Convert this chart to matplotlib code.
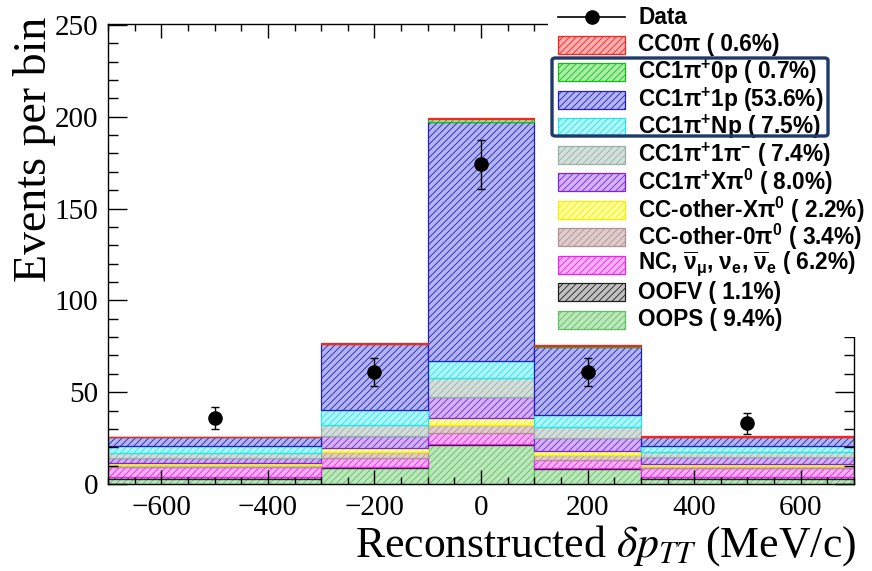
import numpy as np
import matplotlib
matplotlib.use("Agg")
import matplotlib.pyplot as plt
from matplotlib.patches import Rectangle, FancyBboxPatch
from matplotlib.lines import Line2D

plt.rcParams['mathtext.fontset'] = 'custom'
plt.rcParams['mathtext.rm'] = 'Liberation Sans:bold'
plt.rcParams['mathtext.it'] = 'Liberation Sans:bold'
plt.rcParams['mathtext.bf'] = 'Liberation Sans:bold'
plt.rcParams['hatch.linewidth'] = 0.6

# bin edges in MeV/c
edges = [-700, -300, -100, 100, 300, 700]

# stacked components, bottom to top (events per bin)
oops      = [2.7, 8.9, 21.2, 8.0, 2.6]
oofv      = [0.9, 0.5, 0.4, 0.5, 1.0]
nc        = [5.8, 4.9, 6.0, 4.6, 4.9]
cc_oth_0  = [0.9, 3.3, 4.5, 2.7, 1.5]
cc_oth_x  = [1.0, 1.8, 3.7, 2.3, 0.7]
cc1pi_xpi = [2.7, 6.7, 11.8, 6.8, 4.2]
cc1pi_1pm = [2.7, 6.0, 10.0, 6.3, 2.7]
cc1pi_np  = [4.0, 8.2, 9.6, 6.4, 3.1]
cc1pi_1p  = [4.7, 36.0, 130.1, 36.8, 4.7]
cc1pi_0p  = [0.1, 0.2, 1.3, 0.8, 0.3]
cc0pi     = [0.2, 0.1, 0.5, 0.3, 0.6]

data_x   = [-500, -200, 0, 200, 500]
data_y   = [36, 61, 174, 61, 33]
data_err = [6.0, 7.8, 13.2, 7.8, 5.8]

labels = ['CC0π ( 0.6%)', 'CC1π$^{+}$0p ( 0.7%)', 'CC1π$^{+}$1p (53.6%)',
          'CC1π$^{+}$Np ( 7.5%)', 'CC1π$^{+}$1π$^{-}$ ( 7.4%)',
          'CC1π$^{+}$Xπ$^{0}$ ( 8.0%)', 'CC-other-Xπ$^{0}$ ( 2.2%)',
          'CC-other-0π$^{0}$ ( 3.4%)',
          r'NC, $\overline{\nu}_{\mu}$, $\nu_{e}$, $\overline{\nu}_{e}$ ( 6.2%)',
          'OOFV ( 1.1%)', 'OOPS ( 9.4%)']

# (hatch/line colour, fill colour) per component, same order as labels
styles = [('#ff2020', '#f6b0b0'), ('#10c010', '#a8eca8'), ('#2020c0', '#b4b4ee'),
          ('#20e8f0', '#b0f4f6'), ('#98b0a8', '#d4dedb'), ('#8020e0', '#d2b4f4'),
          ('#f0f000', '#ffff9c'), ('#b09090', '#e0cccc'), ('#f020f0', '#f6b0f6'),
          ('#202020', '#c0c0c0'), ('#60c060', '#bce6bc')]

stack = [oops, oofv, nc, cc_oth_0, cc_oth_x, cc1pi_xpi, cc1pi_1pm,
         cc1pi_np, cc1pi_1p, cc1pi_0p, cc0pi]
stack_styles = styles[::-1]

W, H = 872, 571
fig = plt.figure(figsize=(W / 100, H / 100), dpi=100)
ax = fig.add_axes([108 / W, 1 - 484 / H, (854 - 108) / W, (484 - 24) / H])

e = np.array(edges, dtype=float)
centers = (e[:-1] + e[1:]) / 2
widths = np.diff(e)
bottom = np.zeros(len(centers))
for vals, (lc, fc) in zip(stack, stack_styles):
    ax.bar(centers, vals, width=widths, bottom=bottom, facecolor=fc,
           edgecolor=lc, hatch='/////', linewidth=0.9)
    bottom += np.array(vals)

ax.errorbar(data_x, data_y, yerr=data_err, fmt='o', color='black',
            markersize=9.5, capsize=3, elinewidth=1, capthick=1, zorder=5)

ax.set_xlim(-700, 700)
ax.set_ylim(0, 250.5)
ax.set_xticks(np.arange(-600, 601, 200))
ax.set_xticks(np.arange(-700, 701, 50), minor=True)
ax.set_yticks(np.arange(0, 251, 50))
ax.set_yticks(np.arange(0, 251, 10), minor=True)
ax.tick_params(which='both', direction='in', top=True, right=True, width=1)
ax.tick_params(axis='y', which='major', length=14, pad=7)
ax.tick_params(axis='y', which='minor', length=7)
ax.tick_params(axis='x', which='major', length=10, pad=8)
ax.tick_params(axis='x', which='minor', length=5)
for lab in ax.get_xticklabels() + ax.get_yticklabels():
    lab.set_fontfamily('Liberation Serif')
    lab.set_fontsize(21)
for sp in ax.spines.values():
    sp.set_linewidth(1)

fig.text(35 / W, 1 - 17 / H, 'Events per bin', rotation=90, ha='center', va='top',
         family='Liberation Serif', fontsize=33)
fig.text(856 / W, 3 / H, r'Reconstructed $\delta p_{TT}$ (MeV/c)', ha='right',
         va='bottom', family='Liberation Serif', fontsize=31.5, math_fontfamily='stix')

# legend drawn on a white panel
fig.patches.append(Rectangle((548 / W, 1 - 337 / H), (W - 548) / W, 337 / H,
                             transform=fig.transFigure, facecolor='white',
                             edgecolor='none', zorder=10))
row0, dy = 17, 27.5
hx0, hx1, tx = 558, 625, 638
fsz = 16.3
fig.lines.append(Line2D([hx0 / W, hx1 / W], [1 - row0 / H] * 2, color='black', lw=1.2,
                        transform=fig.transFigure, zorder=11))
fig.lines.append(Line2D([(hx0 + hx1) / 2 / W], [1 - row0 / H], color='black', marker='o',
                        markersize=9.5, transform=fig.transFigure, zorder=12))
fig.text(tx / W, 1 - row0 / H, 'Data', ha='left', va='center', family='Liberation Sans',
         weight='bold', fontsize=fsz, zorder=12)
for i, (lab, (lc, fc)) in enumerate(zip(labels, styles)):
    yc = row0 + dy * (i + 1)
    fig.patches.append(Rectangle((hx0 / W, 1 - (yc + 9) / H), (hx1 - hx0) / W, 18 / H,
                                 transform=fig.transFigure, facecolor=fc, edgecolor=lc,
                                 hatch='/////', lw=0.9, zorder=11))
    fig.text(tx / W, 1 - yc / H, lab, ha='left', va='center', family='Liberation Sans',
             weight='bold', fontsize=fsz, zorder=12)

fig.patches.append(FancyBboxPatch((552 / W, 1 - 136 / H), (828 - 552) / W, (136 - 58) / H,
                                  boxstyle='round,pad=0,rounding_size=0.004',
                                  transform=fig.transFigure, facecolor='none',
                                  edgecolor='#1f3a68', lw=2.4, zorder=13))

fig.savefig('out.png', dpi=100)
